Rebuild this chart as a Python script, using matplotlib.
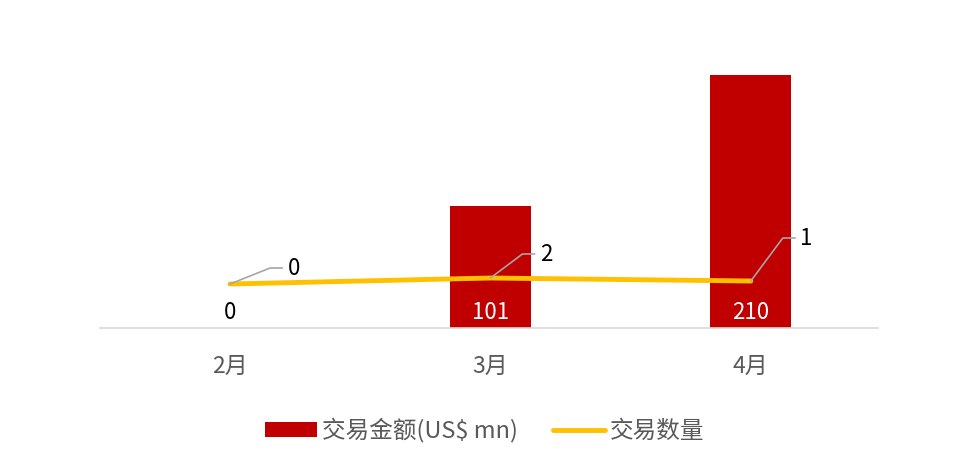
import matplotlib.pyplot as plt

plt.rcParams['font.family'] = ['Noto Sans CJK SC', 'DejaVu Sans']

months = ['2月', '3月', '4月']
amounts = [0, 101, 210]      # 交易金额(US$ mn)
counts = [0, 2, 1]           # 交易数量

# 标签偏移(像素): 折线标签的引导线终点
label_offsets = [(40, 16), (32, 24), (32, 43)]

fig = plt.figure(figsize=(9.6, 4.69), dpi=100)
ax = fig.add_axes([0.104, 0.3006, 0.811, 0.6418])
x = range(len(months))

bars = ax.bar(x, amounts, width=0.31, color='#C00000', zorder=2, label='交易金额(US$ mn)')
ax.set_xlim(-0.5, 2.49)
ax.set_ylim(0, 250)
ax.set_yticks([])
for s in ['top', 'right', 'left']:
    ax.spines[s].set_visible(False)
ax.spines['bottom'].set_color('#D9D9D9')
ax.spines['bottom'].set_linewidth(1.2)
ax.set_xticks(list(x))
ax.set_xticklabels(months, fontsize=16.5, color='#595959')
ax.tick_params(axis='x', length=0, pad=19)

for xi, v in zip(x, amounts):
    c = 'white' if v > 0 else 'black'
    ax.annotate(str(v), (xi, 0), xytext=(0, 11), textcoords='offset points',
                ha='center', va='center', fontsize=16, color=c, zorder=4)

ax2 = ax.twinx()
ax2.set_ylim(-14.67, 85.67)
ax2.set_yticks([])
for s in ax2.spines.values():
    s.set_visible(False)
line, = ax2.plot(list(x), counts, color='#FFC000', lw=3.5, solid_capstyle='round',
                 zorder=3, label='交易数量')

for xi, v, (dx, dy) in zip(x, counts, label_offsets):
    p = ax2.transData.transform((xi, v))
    inv = ax2.transData.inverted()
    p1 = inv.transform((p[0] + dx, p[1] + dy))
    p2 = inv.transform((p[0] + dx + 12, p[1] + dy))
    ax2.plot([xi, p1[0], p2[0]], [v, p1[1], p2[1]], color='#A6A6A6', lw=1.2, zorder=4)
    ax2.annotate(str(v), (p2[0], p2[1]), xytext=(4, 0), textcoords='offset points',
                 ha='left', va='center', fontsize=16, color='black')

fig.legend(handles=[bars, line], loc='center', bbox_to_anchor=(0.505, 0.083), ncol=2,
           frameon=False, fontsize=17, labelcolor='#595959', handlelength=2.2,
           handleheight=0.6, handletextpad=0.2, columnspacing=1.5)

fig.savefig('out.png', dpi=100)
